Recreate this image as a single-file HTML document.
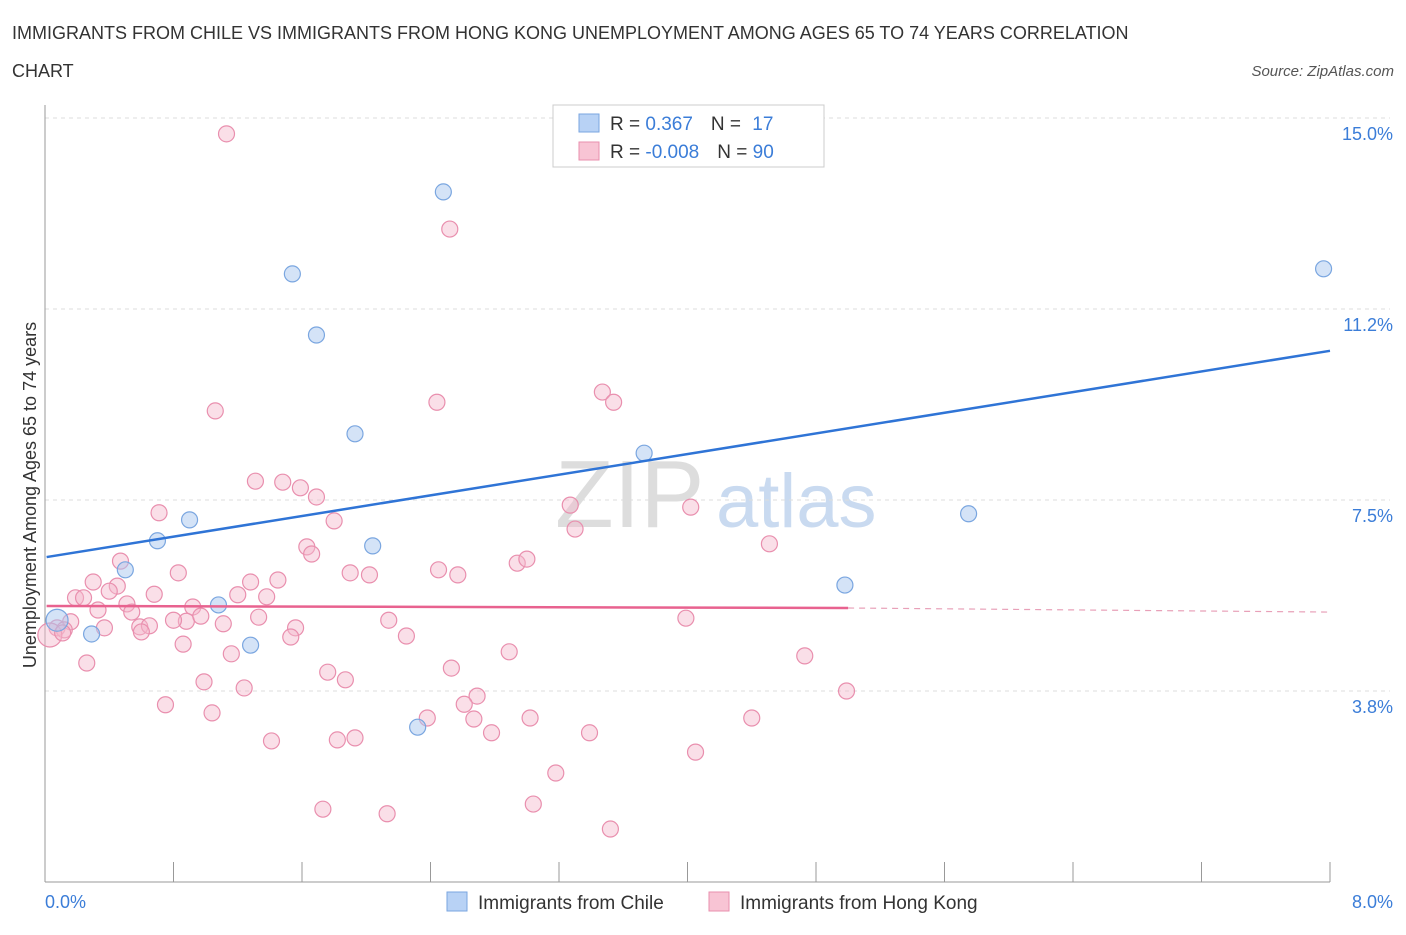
<!DOCTYPE html>
<html><head><meta charset="utf-8"><style>
body{margin:0;background:#fff;font-family:"Liberation Sans",sans-serif;}
svg text{font-family:"Liberation Sans",sans-serif;}
</style></head><body>
<svg width="1406" height="930" viewBox="0 0 1406 930">
<text x="12" y="39" font-size="18" fill="#333">IMMIGRANTS FROM CHILE VS IMMIGRANTS FROM HONG KONG UNEMPLOYMENT AMONG AGES 65 TO 74 YEARS CORRELATION</text>
<text x="12" y="77" font-size="18" fill="#333">CHART</text>
<text x="1394" y="76" font-size="15" fill="#555" font-style="italic" text-anchor="end">Source: ZipAtlas.com</text>
<g>
<text x="555" y="527" font-size="96" fill="#ddd" font-family="Liberation Serif">ZIP</text>
<text x="716" y="527" font-size="76" fill="#c9daf0">atlas</text>
</g>
<g id="grid"></g>
<g id="axes"></g>
<g id="marks"></g>
<text x="36" y="495" font-size="18" fill="#333" text-anchor="middle" transform="rotate(-90 36 495)">Unemployment Among Ages 65 to 74 years</text>
<text x="45" y="908" font-size="18" fill="#3b7dd8">0.0%</text>
<text x="1393" y="908" font-size="18" fill="#3b7dd8" text-anchor="end">8.0%</text>
<g>
<rect x="553" y="105" width="271" height="62" fill="#fff" stroke="#ccc"/>
<rect x="579" y="114" width="20" height="18" fill="#b8d2f5" stroke="#7aa6e0"/>
<rect x="579" y="142" width="20" height="18" fill="#f8c4d4" stroke="#e98fae"/>
<text x="610" y="130" font-size="19" fill="#333">R = <tspan fill="#3b7dd8"> 0.367</tspan><tspan dx="18" fill="#333">N = </tspan><tspan fill="#3b7dd8" dx="6">17</tspan></text>
<text x="610" y="158" font-size="19" fill="#333">R = <tspan fill="#3b7dd8">-0.008</tspan><tspan dx="18" fill="#333">N = </tspan><tspan fill="#3b7dd8">90</tspan></text>
</g>
<g>
<rect x="447" y="892" width="20" height="19" fill="#b8d2f5" stroke="#7aa6e0"/>
<text x="478" y="909" font-size="19" fill="#333">Immigrants from Chile</text>
<rect x="709" y="892" width="20" height="19" fill="#f8c4d4" stroke="#e98fae"/>
<text x="740" y="909" font-size="19" fill="#333">Immigrants from Hong Kong</text>
</g>
</svg>
<script>
const yTicks=[3.75,7.5,11.25,15];
const yTickLabels=["3.8%","7.5%","11.2%","15.0%"];
const xTicks=[0,0.8,1.6,2.4,3.2,4,4.8,5.6,6.4,7.2,8];
const chileX=[0.075,0.29,0.50,0.70,0.90,1.08,1.28,1.54,1.69,1.93,2.04,2.32,2.48,3.73,4.98,5.75,7.96];
const chileY=[5.14,4.87,6.13,6.70,7.11,5.44,4.65,11.94,10.74,8.80,6.60,3.04,13.55,8.42,5.83,7.23,12.04];
const hkX=[1.13,2.52,3.47,3.54,2.44,1.06,1.31,1.48,1.59,1.69,3.27,4.02,0.71,1.80,3.30,4.51,1.63,1.66,0.47,2.94,3.00,0.83,1.90,2.02,2.45,2.57,0.30,0.45,0.40,1.28,1.45,0.68,1.20,1.38,0.19,0.24,0.51,0.54,0.33,0.92,0.88,0.97,1.33,2.14,3.99,0.80,1.11,0.16,0.37,0.59,0.65,0.60,0.075,0.12,1.56,1.53,2.25,0.86,1.16,2.89,4.73,0.26,2.53,1.76,1.87,0.99,1.24,2.69,4.99,0.75,2.61,1.04,2.38,2.67,3.02,4.40,3.39,2.78,1.41,1.82,1.93,4.05,3.18,1.73,3.04,2.13,3.52,0.03,0.11];
const hkY=[14.69,12.82,9.62,9.42,9.42,9.25,7.87,7.85,7.74,7.56,7.40,7.36,7.25,7.09,6.93,6.64,6.58,6.44,6.30,6.26,6.34,6.07,6.07,6.03,6.13,6.03,5.89,5.81,5.71,5.89,5.93,5.65,5.64,5.60,5.58,5.58,5.46,5.30,5.34,5.40,5.12,5.22,5.20,5.14,5.18,5.14,5.07,5.11,4.99,5.01,5.03,4.91,4.99,4.95,4.99,4.81,4.83,4.67,4.48,4.52,4.44,4.30,4.20,4.12,3.97,3.93,3.81,3.65,3.75,3.48,3.49,3.32,3.22,3.20,3.22,3.22,2.93,2.93,2.77,2.79,2.83,2.55,2.14,1.43,1.53,1.34,1.04,4.85,4.89];
const chileTrend=[6.38,10.43];
const hkTrend=[5.42,5.38,5.30];
const X0=45,X1=1330,Y0=882;
const xs=v=>X0+v/8*(X1-X0);
const ys=v=>Y0-v*50.93;
const NS="http://www.w3.org/2000/svg";
function mk(tag,attrs,parent){const e=document.createElementNS(NS,tag);for(const k in attrs)e.setAttribute(k,attrs[k]);document.getElementById(parent).appendChild(e);return e;}
yTicks.forEach((t,i)=>{
 const l=mk('line',{x1:X0,x2:1390,y1:ys(t),y2:ys(t),stroke:'#ddd','stroke-dasharray':'4,4'},'grid');
 
 
 const tx=mk('text',{x:1393,y:ys(t)+22,'font-size':18,fill:'#3b7dd8','text-anchor':'end'},'grid');
 tx.textContent=yTickLabels[i];
 
 
});
const ax=mk('line',{x1:X0,x2:X1,y1:Y0,y2:Y0,stroke:'#999'},'axes');


const ay=mk('line',{x1:X0,x2:X0,y1:105,y2:Y0,stroke:'#999'},'axes');


xTicks.forEach(t=>{
 const l=mk('line',{x1:xs(t),x2:xs(t),y1:862,y2:Y0,stroke:'#999'},'axes');
 
 
});
hkX.forEach((x,i)=>{
 const big=i>=hkX.length-2&&i===hkX.length-2;
 const c=mk('circle',{cx:xs(x),cy:ys(hkY[i]),r:big?12:8,fill:'#f4b8cb','fill-opacity':0.45,stroke:'#e98fae','stroke-width':1.2},'marks');
 
 
});
chileX.forEach((x,i)=>{
 const c=mk('circle',{cx:xs(x),cy:ys(chileY[i]),r:i===0?11:8,fill:'#a9c8f0','fill-opacity':0.5,stroke:'#7aa6e0','stroke-width':1.2},'marks');
 
 
});
const bl=mk('line',{x1:xs(0.01),y1:ys(chileTrend[0]),x2:xs(8),y2:ys(chileTrend[1]),stroke:'#2f74d6','stroke-width':2.5},'marks');


const pl=mk('line',{x1:xs(0.01),y1:ys(hkTrend[0]),x2:xs(5),y2:ys(hkTrend[1]),stroke:'#e8628f','stroke-width':2.5},'marks');


const pd=mk('line',{x1:xs(5),y1:ys(hkTrend[1]),x2:xs(8),y2:ys(hkTrend[2]),stroke:'#e8a0b8','stroke-width':1.2,'stroke-dasharray':'6,5'},'marks');


</script>
</body></html>
